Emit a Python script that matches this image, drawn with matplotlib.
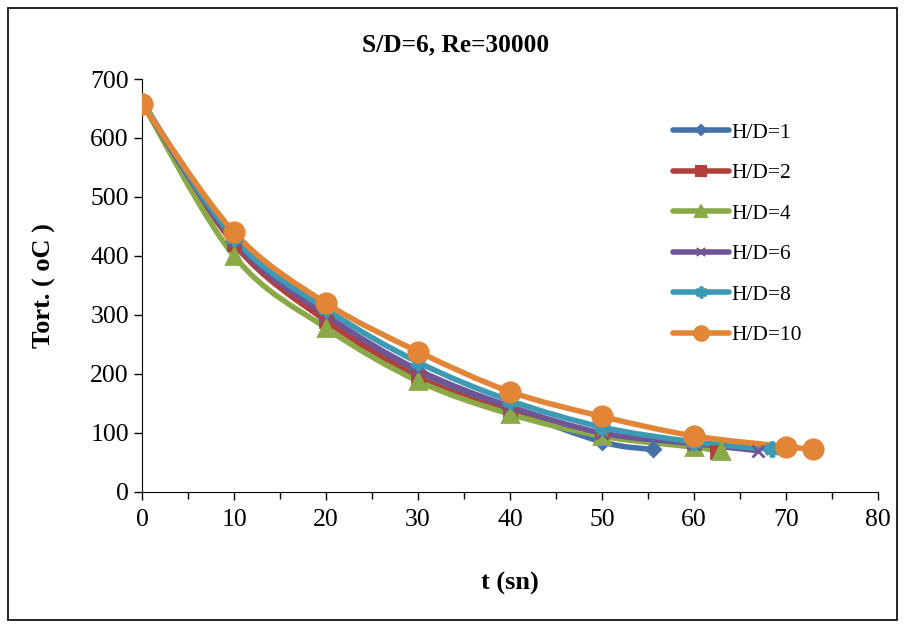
import numpy as np
import matplotlib
matplotlib.use("Agg")
import matplotlib.pyplot as plt
from matplotlib.path import Path
from matplotlib.patches import PathPatch, Rectangle
from matplotlib.ticker import MultipleLocator

plt.rcParams['font.family'] = ['Liberation Serif', 'DejaVu Serif']

# data
t_hd1 = [0, 10, 20, 30, 40, 50, 55.5]
T_hd1 = [660, 425, 295, 205, 140, 85, 72]
t_hd2 = [0, 10, 20, 30, 40, 50, 60, 62.5]
T_hd2 = [660, 420, 290, 195, 135, 95, 78, 68]
t_hd4 = [0, 10, 20, 30, 40, 50, 60, 63]
T_hd4 = [660, 400, 278, 188, 132, 95, 76, 70]
t_hd6 = [0, 10, 20, 30, 40, 50, 60, 67]
T_hd6 = [660, 425, 300, 207, 145, 100, 82, 70]
t_hd8 = [0, 10, 20, 30, 40, 50, 60, 68.5]
T_hd8 = [662, 430, 310, 220, 155, 110, 85, 72]
t_hd10 = [0, 10, 20, 30, 40, 50, 60, 70, 73]
T_hd10 = [658, 440, 320, 238, 170, 128, 95, 77, 72]

labels = ['H/D=1', 'H/D=2', 'H/D=4', 'H/D=6', 'H/D=8', 'H/D=10']
colors = ['#4472A8', '#B0403C', '#8AAA48', '#6F5595', '#3C9AB4', '#E38537']
markers = ['D', 's', '^', 'x', '$\u2731$', 'o']
msizes = [7, 9, 12, 8, 10, 14]

series = [(t_hd1, T_hd1), (t_hd2, T_hd2), (t_hd4, T_hd4),
          (t_hd6, T_hd6), (t_hd8, T_hd8), (t_hd10, T_hd10)]


def smooth_path(x, y):
    # Excel-like smoothed line: cubic Bezier segments through the points
    x = np.asarray(x, float)
    y = np.asarray(y, float)
    verts = [(x[0], y[0])]
    codes = [Path.MOVETO]
    n = len(x)
    for i in range(n - 1):
        x0, y0 = (x[i - 1], y[i - 1]) if i > 0 else (x[i], y[i])
        x3, y3 = (x[i + 2], y[i + 2]) if i + 2 < n else (x[i + 1], y[i + 1])
        c1 = (x[i] + (x[i + 1] - x0) / 6, y[i] + (y[i + 1] - y0) / 6)
        c2 = (x[i + 1] - (x3 - x[i]) / 6, y[i + 1] - (y3 - y[i]) / 6)
        verts += [c1, c2, (x[i + 1], y[i + 1])]
        codes += [Path.CURVE4] * 3
    return Path(verts, codes)


fig = plt.figure(figsize=(9.05, 6.28), dpi=100)
ax = fig.add_axes([0.157, 0.2166, 0.813, 0.6576])

for (tx, ty), lab, c, m, ms in zip(series, labels, colors, markers, msizes):
    ax.add_patch(PathPatch(smooth_path(tx, ty), facecolor='none',
                           edgecolor=c, lw=4, capstyle='round', zorder=2))
    ax.plot(tx, ty, ls='none', marker=m, color=c, ms=ms, mew=2, zorder=3)
    ax.plot([], [], color=c, lw=4, marker=m, ms=ms * 0.75, mew=1.5,
            label=lab, solid_capstyle='round')

ax.set_xlim(0, 80)
ax.set_ylim(0, 700)
ax.xaxis.set_major_locator(MultipleLocator(10))
ax.xaxis.set_minor_locator(MultipleLocator(5))
ax.yaxis.set_major_locator(MultipleLocator(100))
ax.spines['top'].set_visible(False)
ax.spines['right'].set_visible(False)
ax.tick_params(axis='both', which='major', labelsize=18.5, direction='out',
               length=6, width=1)
ax.tick_params(axis='x', which='minor', direction='out', length=5, width=1)
ax.tick_params(axis='x', pad=6)

ax.set_xlabel('t (sn)', fontsize=19, fontweight='bold', labelpad=30)
ax.set_ylabel('Tort. ( oC )', fontsize=19, fontweight='bold', labelpad=25)
fig.text(0.503, 0.928, 'S/D=6, Re=30000', ha='center', va='center',
         fontsize=18.3, fontweight='bold')

ax.legend(loc='upper left', bbox_to_anchor=(0.71, 0.915), frameon=False,
          fontsize=15.5, handlelength=2.6, handletextpad=0.1,
          labelspacing=0.95, borderaxespad=0)

fig.add_artist(Rectangle((0.009, 0.013), 0.982, 0.975, transform=fig.transFigure,
                         fill=False, edgecolor='black', lw=1.2))

fig.savefig('out.png', dpi=100)
